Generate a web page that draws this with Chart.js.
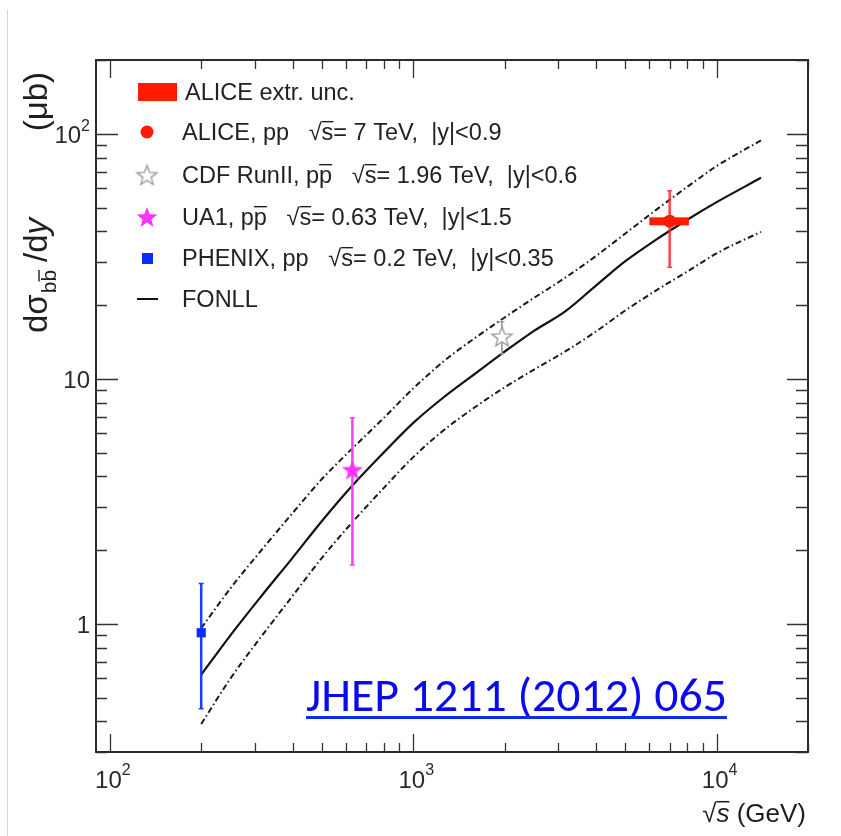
<!DOCTYPE html>
<html><head><meta charset="utf-8">
<script src="https://cdn.jsdelivr.net/npm/chart.js@4/dist/chart.umd.min.js"></script>
<style>
html,body{margin:0;padding:0;background:#fff;}
#wrap{position:relative;width:841px;height:836px;overflow:hidden;}
#edge{position:absolute;left:7px;top:10px;width:1px;height:826px;background:#d4d4d4;}
canvas{display:block;}
</style></head><body>
<div id="wrap"><canvas id="c" width="841" height="836"></canvas><div id="edge"></div></div>
<script>
// ---------- data ----------
const fonllX = [200, 250, 316, 400, 500, 630, 800, 1000, 1260, 1600, 2000, 2500, 3160, 4000, 5000, 6300, 8000, 10000, 14000];
const fonllCentral = [0.62, 0.90, 1.30, 1.86, 2.63, 3.67, 5.01, 6.61, 8.41, 10.5, 12.9, 15.7, 18.8, 24.0, 30.2, 36.9, 44.6, 52.6, 66.1];
const fonllUpper = [0.96, 1.40, 2.00, 2.83, 3.90, 5.20, 6.93, 9.14, 11.8, 14.7, 17.8, 21.4, 25.8, 31.7, 39.2, 48.8, 60.7, 73.8, 94.0];
const fonllLower = [0.39, 0.60, 0.89, 1.30, 1.86, 2.60, 3.59, 4.79, 6.17, 7.67, 9.23, 10.9, 12.9, 15.6, 19.0, 22.9, 27.4, 32.5, 39.8];

const aliceX = [7000], aliceY = [44.0], aliceLow = [28.5], aliceHigh = [58.5];
const aliceExtrX = [6000, 8100], aliceExtrY = [42.3, 45.6];
const cdfX = [1960], cdfY = [14.9], cdfLow = [12.65], cdfHigh = [17.1];
const ua1X = [630], ua1Y = [4.26], ua1Low = [1.74], ua1High = [6.93];
const phenixX = [200], phenixY = [0.92], phenixLow = [0.45], phenixHigh = [1.46];

const xMajorTicks = [100, 1000, 10000];
const xTickBase = ['10', '10', '10'];
const xTickExp = ['2', '3', '4'];
const yMajorTicks = [1, 10, 100];
const yTickBase = ['1', '10', '10'];
const yTickExp = ['', '', '2'];

const legendLabels = [
  'ALICE extr. unc.',
  'ALICE, pp   √s= 7 TeV,  |y|<0.9',
  'CDF RunII, pp̄   √s= 1.96 TeV,  |y|<0.6',
  'UA1, pp̄   √s= 0.63 TeV,  |y|<1.5',
  'PHENIX, pp   √s= 0.2 TeV,  |y|<0.35',
  'FONLL'
];
const referenceText = 'JHEP 1211 (2012) 065';

// ---------- helpers ----------
const pts = (xs, ys) => xs.map((x, i) => ({x, y: ys[i]}));
function starPath(ctx, cx, cy, R, r) {
  ctx.beginPath();
  for (let i = 0; i < 10; i++) {
    const a = -Math.PI / 2 + i * Math.PI / 5;
    const rad = i % 2 ? r : R;
    const px = cx + rad * Math.cos(a), py = cy + rad * Math.sin(a);
    i ? ctx.lineTo(px, py) : ctx.moveTo(px, py);
  }
  ctx.closePath();
}
function makeStar(R, r, fill, stroke, lw) {
  const s = Math.ceil(2 * R + 4);
  const c = document.createElement('canvas');
  c.width = s; c.height = s;
  const g = c.getContext('2d');
  starPath(g, s / 2, s / 2 + 1, R, r);
  if (fill) { g.fillStyle = fill; g.fill(); }
  if (stroke) { g.strokeStyle = stroke; g.lineWidth = lw; g.lineJoin = 'miter'; g.stroke(); }
  return c;
}
const ua1Star = makeStar(11, 4.6, '#ff33ff', null, 0);
const cdfStar = makeStar(10.5, 4.4, '#ffffff', '#9a9a9a', 1.4);

const FONT = '"Liberation Sans", Arial, Helvetica, sans-serif';

function drawPieces(ctx, x, y, pieces, size) {
  let cx = x;
  for (const p of pieces) {
    const fs = p.sub ? size * 0.7 : size;
    ctx.font = (p.italic ? 'italic ' : '') + fs + 'px ' + FONT;
    const w = ctx.measureText(p.t).width;
    const dy = p.sub ? size * 0.3 : 0;
    ctx.fillText(p.t, cx, y + dy);
    if (p.over) {
      const oy = y + dy - fs * 0.78;
      ctx.save(); ctx.lineWidth = Math.max(1, fs * 0.06); ctx.strokeStyle = ctx.fillStyle;
      ctx.beginPath(); ctx.moveTo(cx, oy); ctx.lineTo(cx + w, oy); ctx.stroke(); ctx.restore();
    }
    cx += w;
  }
  return cx - x;
}
function piecesWidth(ctx, pieces, size) {
  let w = 0;
  for (const p of pieces) {
    const fs = p.sub ? size * 0.7 : size;
    ctx.font = (p.italic ? 'italic ' : '') + fs + 'px ' + FONT;
    w += ctx.measureText(p.t).width;
  }
  return w;
}

const errorPlugin = {
  id: 'errs',
  beforeDatasetDraw(chart, args) {
    const ds = chart.data.datasets[args.index];
    const xs = chart.scales.x, ys = chart.scales.y, ctx = chart.ctx;
    ctx.save();
    if (ds.extrBox) {
      const b = ds.extrBox;
      const x0 = xs.getPixelForValue(b.x[0]), x1 = xs.getPixelForValue(b.x[1]);
      const y0 = ys.getPixelForValue(b.y[1]), y1 = ys.getPixelForValue(b.y[0]);
      ctx.fillStyle = '#ff1a00';
      ctx.fillRect(x0, y0, x1 - x0, y1 - y0);
    }
    if (ds.errLow) {
      ds.data.forEach((p, i) => {
        const px = xs.getPixelForValue(p.x);
        const yl = ys.getPixelForValue(ds.errLow[i]), yh = ys.getPixelForValue(ds.errHigh[i]);
        ctx.strokeStyle = ds.errColor; ctx.lineWidth = ds.errWidth;
        ctx.beginPath(); ctx.moveTo(px, yl); ctx.lineTo(px, yh); ctx.stroke();
        ctx.lineWidth = 1.5;
        ctx.beginPath();
        ctx.moveTo(px - 2.5, yl); ctx.lineTo(px + 2.5, yl);
        ctx.moveTo(px - 2.5, yh); ctx.lineTo(px + 2.5, yh);
        ctx.stroke();
      });
    }
    ctx.restore();
  }
};

const framePlugin = {
  id: 'frame',
  afterDraw(chart) {
    const ctx = chart.ctx, a = chart.chartArea, xs = chart.scales.x, ys = chart.scales.y;
    ctx.save();
    // ticks
    ctx.strokeStyle = '#333'; ctx.lineWidth = 1.3;
    ctx.beginPath();
    for (let d = 100; d <= 10000; d *= 10) {
      for (let k = 1; k <= 9; k++) {
        const v = d * k;
        if (v < xs.min || v > xs.max) continue;
        const px = Math.round(xs.getPixelForValue(v)) + 0.5;
        const len = k === 1 ? 18 : 9;
        ctx.moveTo(px, a.bottom); ctx.lineTo(px, a.bottom - len);
        ctx.moveTo(px, a.top); ctx.lineTo(px, a.top + len);
      }
    }
    for (let d = 0.1; d <= 100.001; d *= 10) {
      for (let k = 1; k <= 9; k++) {
        const v = d * k;
        if (v < ys.min * 0.999 || v > ys.max * 1.001) continue;
        const py = Math.round(ys.getPixelForValue(v)) + 0.5;
        const major = k === 1;
        ctx.moveTo(a.left, py); ctx.lineTo(a.left + (major ? 22 : 11), py);
        ctx.moveTo(a.right, py); ctx.lineTo(a.right - (major ? 21 : 12), py);
      }
    }
    ctx.stroke();
    // frame
    ctx.strokeStyle = '#2a2a36'; ctx.lineWidth = 2;
    ctx.strokeRect(a.left, a.top, a.right - a.left, a.bottom - a.top);

    // tick labels
    ctx.fillStyle = '#2a2a2a'; ctx.textBaseline = 'alphabetic'; ctx.textAlign = 'left';
    const ts = 24, es = 16;
    xMajorTicks.forEach((v, i) => {
      const px = xs.getPixelForValue(v);
      ctx.font = ts + 'px ' + FONT;
      const wb = ctx.measureText(xTickBase[i]).width;
      ctx.font = es + 'px ' + FONT;
      const we = ctx.measureText(xTickExp[i]).width;
      const x0 = px - (wb + we) / 2 + 3;
      ctx.font = ts + 'px ' + FONT;
      ctx.fillText(xTickBase[i], x0, 788);
      ctx.font = es + 'px ' + FONT;
      ctx.fillText(xTickExp[i], x0 + wb, 775);
    });
    yMajorTicks.forEach((v, i) => {
      const py = ys.getPixelForValue(v);
      ctx.font = es + 'px ' + FONT;
      const we = yTickExp[i] ? ctx.measureText(yTickExp[i]).width : 0;
      ctx.font = ts + 'px ' + FONT;
      const wb = ctx.measureText(yTickBase[i]).width;
      const right = 90;
      ctx.fillText(yTickBase[i], right - we - wb, py + 9);
      if (yTickExp[i]) { ctx.font = es + 'px ' + FONT; ctx.fillText(yTickExp[i], right - we, py - 3); }
    });

    // axis titles
    ctx.fillStyle = '#1e1e1e';
    const xtPieces = [{t: '√'}, {t: 's', italic: true, over: true}, {t: ' (GeV)'}];
    const tw = piecesWidth(ctx, xtPieces, 26);
    drawPieces(ctx, 806 - tw, 822, xtPieces, 26);
    // y title rotated
    ctx.save();
    ctx.translate(47, 333);
    ctx.rotate(-Math.PI / 2);
    const yMain = 33, ySub = 21;
    ctx.font = yMain + 'px ' + FONT;
    ctx.fillText('dσ', 0, 0);
    let cx = ctx.measureText('dσ').width + 1;
    ctx.font = ySub + 'px ' + FONT;
    const wb = ctx.measureText('b').width;
    ctx.fillText('b', cx, 9);
    ctx.fillText('b', cx + wb, 9);
    ctx.lineWidth = 1.4; ctx.strokeStyle = '#1e1e1e';
    ctx.beginPath(); ctx.moveTo(cx + wb, 9 - 17); ctx.lineTo(cx + 2 * wb, 9 - 17); ctx.stroke();
    cx = cx + 2 * wb + 8;
    ctx.font = yMain + 'px ' + FONT;
    ctx.fillText('/d', cx, 0);
    cx += ctx.measureText('/d').width;
    ctx.font = 'italic ' + yMain + 'px ' + FONT;
    ctx.fillText('y', cx, 0);
    ctx.font = yMain + 'px ' + FONT;
    const wm = ctx.measureText('(μb)').width;
    ctx.fillText('(μb)', 261 - wm, 0);
    ctx.restore();

    // legend
    const lx = 182, rows = [92, 132, 175, 217, 258, 299], ls = 23.5;
    ctx.fillStyle = '#ff1a00'; ctx.fillRect(138, 83, 39, 18);
    ctx.beginPath(); ctx.arc(147, rows[1], 6.5, 0, 2 * Math.PI); ctx.fill();
    ctx.drawImage(cdfStar, 147 - cdfStar.width / 2, rows[2] - cdfStar.height / 2);
    ctx.drawImage(ua1Star, 147 - ua1Star.width / 2, rows[3] - ua1Star.height / 2);
    ctx.fillStyle = '#0a2cff'; ctx.fillRect(142, rows[4] - 5, 11, 11);
    ctx.strokeStyle = '#111'; ctx.lineWidth = 2; ctx.beginPath(); ctx.moveTo(137, rows[5]); ctx.lineTo(158, rows[5]); ctx.stroke();
    const legPieces = legendLabels.map(s => {
      const out = [];
      let rest = s;
      const re = /(pp̄|√s)/;
      while (rest.length) {
        const m = rest.match(re);
        if (!m) { out.push({t: rest}); break; }
        if (m.index > 0) out.push({t: rest.slice(0, m.index)});
        if (m[0] === 'pp̄') { out.push({t: 'p'}); out.push({t: 'p', over: true}); }
        else { out.push({t: '√'}); out.push({t: 's', over: true}); }
        rest = rest.slice(m.index + m[0].length);
      }
      return out;
    });
    legPieces.forEach((pcs, i) => {
      ctx.fillStyle = '#222'; ctx.strokeStyle = '#222';
      drawPieces(ctx, i === 0 ? 185 : lx, rows[i] + 8, pcs, ls);
    });

    // reference link text
    const RF = 'Carlito, Calibri, Lato, "Open Sans", sans-serif';
    ctx.font = '40px ' + RF;
    const w40 = ctx.measureText(referenceText).width;
    const fs = 40 * 421 / w40;
    ctx.font = fs + 'px ' + RF;
    ctx.fillStyle = '#0a0af0';
    ctx.fillText(referenceText, 306, 711);
    ctx.fillStyle = '#0a2cf5';
    ctx.fillRect(306, 716, 421, 3);
    ctx.restore();
  }
};

const dashDot = [6, 3, 1.5, 3];
new Chart(document.getElementById('c'), {
  type: 'line',
  data: {
    datasets: [
      {label: 'FONLL upper', data: pts(fonllX, fonllUpper), borderColor: '#1a1a1a', borderWidth: 2, borderDash: dashDot, pointRadius: 0, cubicInterpolationMode: 'monotone', order: 10},
      {label: 'FONLL lower', data: pts(fonllX, fonllLower), borderColor: '#1a1a1a', borderWidth: 2, borderDash: dashDot, pointRadius: 0, cubicInterpolationMode: 'monotone', order: 9},
      {label: 'FONLL', data: pts(fonllX, fonllCentral), borderColor: '#111', borderWidth: 2.2, pointRadius: 0, cubicInterpolationMode: 'monotone', order: 8},
      {label: 'PHENIX', data: pts(phenixX, phenixY), showLine: false, pointStyle: 'rect', pointRadius: 6.5, pointBackgroundColor: '#0a2cff', pointBorderWidth: 0, errLow: phenixLow, errHigh: phenixHigh, errColor: '#1f3cff', errWidth: 2.5, order: 4},
      {label: 'UA1', data: pts(ua1X, ua1Y), showLine: false, pointStyle: ua1Star, errLow: ua1Low, errHigh: ua1High, errColor: '#ff3cff', errWidth: 2.5, order: 3},
      {label: 'CDF', data: pts(cdfX, cdfY), showLine: false, pointStyle: cdfStar, errLow: cdfLow, errHigh: cdfHigh, errColor: '#a0a0a0', errWidth: 1.8, order: 2},
      {label: 'ALICE', data: pts(aliceX, aliceY), showLine: false, pointStyle: 'circle', pointRadius: 6.5, pointBackgroundColor: '#ff1a00', pointBorderWidth: 0, errLow: aliceLow, errHigh: aliceHigh, errColor: 'rgba(255,40,40,0.85)', errWidth: 2.5, extrBox: {x: aliceExtrX, y: aliceExtrY}, order: 1}
    ]
  },
  options: {
    responsive: false,
    animation: false,
    layout: {padding: {left: 96, top: 60, right: 33, bottom: 84}},
    plugins: {legend: {display: false}, tooltip: {enabled: false}},
    scales: {
      x: {type: 'logarithmic', min: 90, max: 20000, display: false},
      y: {type: 'logarithmic', min: 0.3, max: 200, display: false}
    }
  },
  plugins: [errorPlugin, framePlugin]
});
</script>
</body></html>
